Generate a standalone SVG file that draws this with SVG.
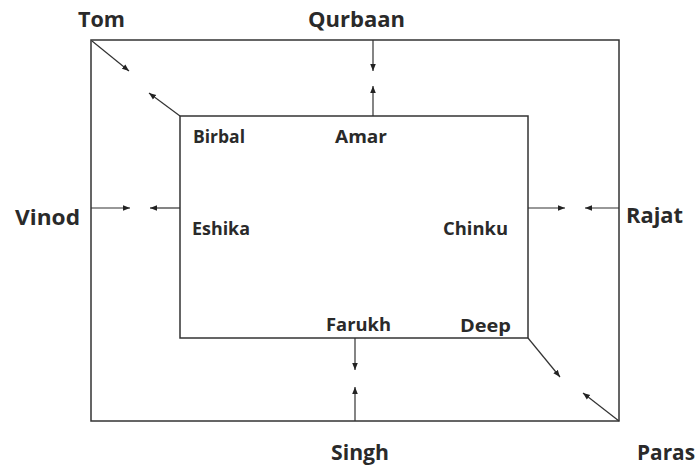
<svg xmlns="http://www.w3.org/2000/svg" width="697" height="470" viewBox="0 0 697 470">
<style>
.box{fill:none;stroke:#333;stroke-width:1.5}
.c{stroke:#333;stroke-width:1.2;fill:none;marker-end:url(#ah)}
text{font-family:"Open Sans",Lato,"Liberation Sans",sans-serif;font-weight:bold;font-size:21px;fill:#2a2a2a}
text.in{font-size:17px}
</style>
<defs>
<marker id="ah" viewBox="0 0 10 10" refX="10" refY="5" markerWidth="7" markerHeight="7" orient="auto" markerUnits="userSpaceOnUse">
<path d="M0,1 L10,5 L0,9 Z" fill="#222"/>
</marker>
</defs>
<rect class="box" x="91" y="40" width="528" height="381"/>
<rect class="box" x="180" y="116" width="348" height="222"/>
<g id="connectors">
<line class="c" x1="92" y1="41" x2="129" y2="71"/>
<line class="c" x1="180" y1="116" x2="149" y2="93"/>
<line class="c" x1="373" y1="40" x2="373" y2="71"/>
<line class="c" x1="373" y1="116" x2="373" y2="86"/>
<line class="c" x1="91" y1="208" x2="130" y2="208"/>
<line class="c" x1="180" y1="208" x2="150" y2="208"/>
<line class="c" x1="528" y1="208" x2="565" y2="208"/>
<line class="c" x1="619" y1="208" x2="585" y2="208"/>
<line class="c" x1="355" y1="338" x2="355" y2="370"/>
<line class="c" x1="355" y1="421" x2="355" y2="387"/>
<line class="c" x1="528" y1="338" x2="560" y2="377"/>
<line class="c" x1="619" y1="421" x2="583" y2="393"/>
</g>
<g id="tom"><text x="78" y="27" textLength="47" lengthAdjust="spacingAndGlyphs">Tom</text></g>
<g id="qurbaan"><text x="308" y="27" textLength="97" lengthAdjust="spacingAndGlyphs">Qurbaan</text></g>
<g id="birbal"><text class="in" x="193" y="143" textLength="52" lengthAdjust="spacingAndGlyphs">Birbal</text></g>
<g id="amar"><text class="in" x="335" y="143" textLength="52" lengthAdjust="spacingAndGlyphs">Amar</text></g>
<g id="vinod"><text x="15" y="225" textLength="65" lengthAdjust="spacingAndGlyphs">Vinod</text></g>
<g id="eshika"><text class="in" x="192" y="235" textLength="58" lengthAdjust="spacingAndGlyphs">Eshika</text></g>
<g id="chinku"><text class="in" x="443" y="235" textLength="65" lengthAdjust="spacingAndGlyphs">Chinku</text></g>
<g id="rajat"><text x="626" y="223" textLength="57" lengthAdjust="spacingAndGlyphs">Rajat</text></g>
<g id="farukh"><text class="in" x="326" y="331" textLength="65" lengthAdjust="spacingAndGlyphs">Farukh</text></g>
<g id="deep"><text class="in" x="460" y="332" textLength="51" lengthAdjust="spacingAndGlyphs">Deep</text></g>
<g id="singh"><text x="331" y="460" textLength="58" lengthAdjust="spacingAndGlyphs">Singh</text></g>
<g id="paras"><text x="637" y="460" textLength="58" lengthAdjust="spacingAndGlyphs">Paras</text></g>
</svg>
